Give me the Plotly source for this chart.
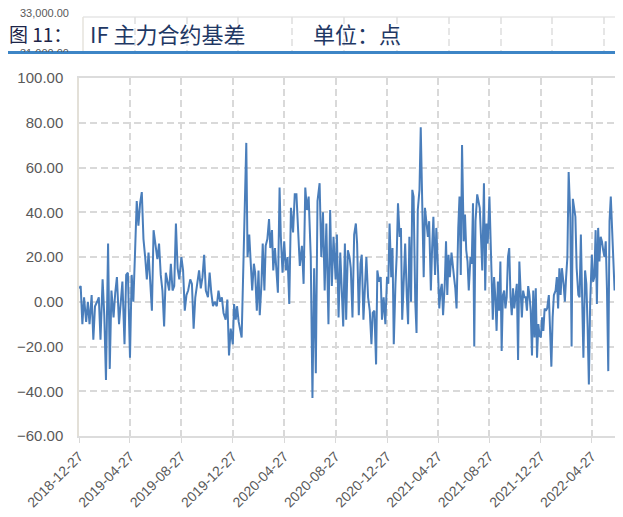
import pandas as pd
import plotly.graph_objects as go

# ---- data -----------------------------------------------------------------
# tick labels / 4-month segment boundaries of the date axis
tick_dates = ["2018-12-27", "2019-04-27", "2019-08-27", "2019-12-27", "2020-04-27",
              "2020-08-27", "2020-12-27", "2021-04-27", "2021-08-27", "2021-12-27",
              "2022-04-27"]
last_end = "2022-06-23"
axis_end = "2022-06-21"

# basis values (index points) read per segment, in time order; None = holiday gap
basis_2019a = [6, 7, -10, 2, -9, 0, -10, 3, -17, -2, 0, 2, -17, 10, -6, -35, 26, -30,
               5, -7, 4, 11, -10, -2, 9, -19, 12, 13]
basis_2019b = [-25, 12, 0, 22, 45, 34, 44, 49, 28, 20, 10, 22, 8, -4, 32, 25, 19, 26,
               12, 5, -11, 13, 8, 5, 17, 5, 7, 35, 15, 10]
basis_2019c = [20, 14, -4, 3, 5, 10, 8, -12, 2, 7, 14, 6, 11, 21, 5, 2, 13, 4, -2, 0,
               -2, 5, 0, 2, -5, -8, 1, -24, -12]
basis_2020a = [-19, -1, -8, -2, -9, -13, -16, None, None, 71, 20, 30, 11, 5, 17, 13, -4,
               14, -6, 8, 26, 5, 25, 28, 37, 24, 32, 14, 24, 10, 4, 51, 29, 13]
basis_2020b = [27, 14, 20, -1, 42, 31, 48, 48, 33, 16, 25, 8, 51, 41, 47, 20, -43, 15,
               -32, 45, 53, 20, 40, 5, 35, -10, 41, 7, 29]
basis_2020c = [10, 30, -7, 22, 5, -11, 26, -8, 23, 20, 15, -7, 30, 35, 26, -6, 17, 21,
               -8, 11, 20, 2, -4, -19, -5, -4, -28, 14, 9, 11, -8, 2, -10]
basis_2021a = [11, 8, 35, 11, 24, -19, 8, 21, 44, 29, 33, -8, 11, 26, 2, -10, 29, 0, 50,
               47, 0, -14, 41, 50, 78, 40, 11, 42, 33, 29, 36, 5, 24, 38, 12, 33]
basis_2021b = [14, -3, 5, 8, -6, 8, 27, 3, 21, 11, 22, 15, 11, 6, -3, 33, 47, 12, 70, 27,
               39, 23, 18, 5, 20, 17, 44, -20, 36, 48, 45, 42, 29, 14, 53, 5, 35, 26]
basis_2021c = [47, 32, 15, -8, 11, 2, -13, 9, -4, 18, -22, 3, 5, -3, 2, 20, 24, 2, -6, 6,
               -3, 2, 8, -26, 18, 5, -7, 5, 2, 2, -4, 7, 3, -4, -24, 5, -16, 6, -25,
               -10, -15]
basis_2022a = [-16, -7, -13, -3, -4, -3, 3, -19, -29, -7, 3, 5, 11, -3, 15, 3, 15, 8, 0,
               11, 20, 58, 38, -20, 46, 42, 38, 15, 3, 2, 30, 2, -25, 14, 8, -11, -37, -1]
basis_2022b = [21, 9, 11, 32, -1, 33, 18, 29, 27, 23, 20, 27, 5, -31, 36, 47, 33, 27, 5]

y_ticks = [-60, -40, -20, 0, 20, 40, 60, 80, 100]

title_fig = "图 11："
title_main = "IF 主力合约基差"
title_unit = "单位：点"
ghost_labels = ["33,000.00", "31,000.00"]

# ---- assemble series --------------------------------------------------------
segments = [basis_2019a, basis_2019b, basis_2019c, basis_2020a, basis_2020b, basis_2020c,
            basis_2021a, basis_2021b, basis_2021c, basis_2022a, basis_2022b]
bounds = [pd.Timestamp(d) for d in tick_dates] + [pd.Timestamp(last_end)]
dates, values = [], []
for k, seg in enumerate(segments):
    a, b = bounds[k], bounds[k + 1]
    n = len(seg)
    for i, v in enumerate(seg):
        dates.append((a + (b - a) * i / n).normalize())
        values.append(v)

# ---- figure -----------------------------------------------------------------
# the page body has an 8px margin; the figure is sized to fit the visible window
OFF = 8
W, H = 607, 501
ML, MR, MT, MB = 71, 0, 70, 73
PW, PH = W - ML - MR, H - MT - MB


def fx(p):  # page x (px) -> paper coordinate
    return (p - OFF - ML) / PW


def fy(p):  # page y (px) -> paper coordinate
    return (H - MB - (p - OFF)) / PH


GRID = "#d9d9d9"
TXT = "#595959"
NAVY = "#1f3864"

fig = go.Figure()
fig.add_trace(go.Scatter(x=dates, y=values, mode="lines", connectgaps=True,
                         line=dict(color="#4a7ebb", width=2), hoverinfo="x+y"))

fig.update_layout(
    width=W, height=H,
    margin=dict(l=ML, r=MR, t=MT, b=MB, pad=0),
    paper_bgcolor="white", plot_bgcolor="white",
    showlegend=False,
    font=dict(family="Liberation Sans, Arial, sans-serif", color=TXT),
)

fig.update_xaxes(
    type="date", range=[tick_dates[0], axis_end],
    tickmode="array", tickvals=tick_dates, ticktext=tick_dates,
    tickangle=-45, tickfont=dict(size=14, color=TXT),
    ticks="outside", ticklen=5, tickcolor=GRID, tickwidth=1,
    showgrid=True, gridcolor=GRID, gridwidth=1.5, griddash="7px,4px",
    showline=True, linecolor="#dcdcdc", linewidth=1.5, mirror=True,
    zeroline=False, automargin=False,
)
fig.update_yaxes(
    range=[-60, 100], tickmode="array", tickvals=y_ticks, tickformat=".2f",
    tickfont=dict(size=15, color=TXT), ticks="", ticklabelstandoff=11,
    showgrid=True, gridcolor=GRID, gridwidth=1.5, griddash="7px,4px",
    showline=True, linecolor="#e3e0d8", linewidth=1.5,
    zeroline=False, automargin=False,
)

shapes = []
# ghost frame of the chart above (partially visible)
shapes.append(dict(type="line", xref="paper", yref="paper", x0=fx(83), x1=fx(615),
                   y0=fy(17), y1=fy(17), line=dict(color="#e6e6e6", width=1.5)))
shapes.append(dict(type="line", xref="paper", yref="paper", x0=fx(83), x1=fx(83),
                   y0=fy(17), y1=fy(51), line=dict(color="#e6e3dc", width=1.5)))
for gx in [135, 187, 238, 292, 344, 397, 449, 501, 552, 604]:
    shapes.append(dict(type="line", xref="paper", yref="paper", x0=fx(gx), x1=fx(gx),
                       y0=fy(17), y1=fy(51),
                       line=dict(color="#dedede", width=1.5, dash="7px,4px")))
# blue rule under the title
shapes.append(dict(type="line", xref="paper", yref="paper", x0=fx(OFF), x1=fx(615),
                   y0=fy(52.5), y1=fy(52.5), line=dict(color="#3d85c6", width=3)))
fig.update_layout(shapes=shapes)

ann = []
ann.append(dict(text=ghost_labels[0], xref="paper", yref="paper", x=fx(70), y=fy(13),
                xanchor="right", yanchor="middle", showarrow=False, borderpad=0,
                font=dict(size=11, color=TXT, family="Liberation Sans, Arial")))
ann.append(dict(text=ghost_labels[1], xref="paper", yref="paper", x=fx(70), y=fy(46),
                xanchor="right", yanchor="top", valign="top", height=5, showarrow=False,
                borderpad=0, font=dict(size=11, color=TXT, family="Liberation Sans, Arial")))
ann.append(dict(text=title_fig, xref="paper", yref="paper", x=fx(OFF), y=fy(33),
                xanchor="left", yanchor="middle", showarrow=False, borderpad=0,
                font=dict(size=19, color="#1c2448", family="Noto Sans CJK SC")))
ann.append(dict(text=title_main, xref="paper", yref="paper", x=fx(89), y=fy(33),
                xanchor="left", yanchor="middle", showarrow=False, borderpad=0,
                font=dict(size=22, color=NAVY, family="Noto Sans CJK SC")))
ann.append(dict(text=title_unit, xref="paper", yref="paper", x=fx(312), y=fy(33),
                xanchor="left", yanchor="middle", showarrow=False, borderpad=0,
                font=dict(size=22, color=NAVY, family="Noto Sans CJK SC")))
fig.update_layout(annotations=ann)

fig.write_html("out.html")
